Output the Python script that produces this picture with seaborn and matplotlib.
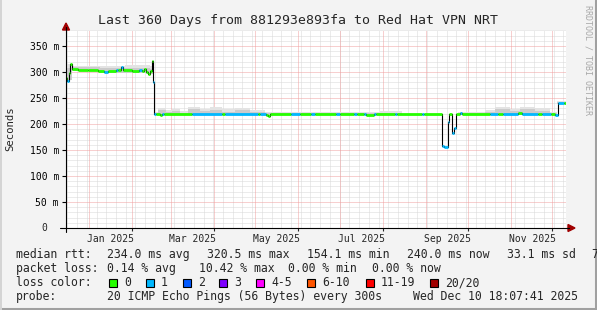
import numpy as np
import pandas as pd
import matplotlib
matplotlib.use("Agg")
import matplotlib.pyplot as plt
import seaborn as sns
from matplotlib.patches import Rectangle, Polygon
from matplotlib.lines import Line2D
from matplotlib.transforms import blended_transform_factory

W, H = 597, 310
START = pd.Timestamp("2024-12-15 18:07:41")
END = pd.Timestamp("2025-12-10 18:07:41")
SPAN = 360.0

# ---------------- data ----------------
# median rtt: segment edges (days since START), value (ms), lost pings (of 20)
med_edges = [0.0, 0.7, 1.8, 3.2, 4.0, 8.6, 15.8, 23.0, 27.4, 30.2, 36.0, 37.4,
             39.6, 41.0, 47.5, 52.6, 54.7, 56.5, 57.6, 59.0, 60.5, 61.9, 62.6,
             63.4, 64.8, 67.7, 69.1, 70.6, 90.7, 112.3, 114.5, 138.2, 139.7,
             144.0, 145.4, 146.9, 162.0, 168.5, 176.4, 179.3, 194.4, 197.3,
             207.4, 209.5, 214.6, 216.0, 221.8, 223.2, 236.9, 238.3, 256.3,
             257.8, 270.7, 272.2, 275.0, 275.8, 277.9, 279.4, 280.8, 283.7,
             285.1, 305.3, 311.0, 314.6, 325.4, 328.3, 339.8, 342.7, 349.2,
             352.1, 353.9, 358.6, 360.0]
med_ms = [289, 283, 298, 316, 305, 304, 303, 302, 300, 301, 303, 303,
          310, 304, 302, 303, 301, 305, 300, 296, 302, 320.5, 281,
          220, 219, 218, 220, 220, 220, 220, 220, 220, 220,
          218, 216, 219, 219, 220, 219, 220, 220, 219,
          220, 219, 220, 218, 219, 220, 220, 220, 219,
          220, 158, 155, 204, 220, 183, 192, 220, 221,
          220, 219, 220, 220, 221, 220, 220, 220, 219,
          217, 240, 240]
med_loss = [0, 1, 0, 0, 0, 0, 0, 0, 1, 0, 1, 0,
            1, 0, 0, 1, 0, 0, 0, 0, 0, 0, 1,
            1, 0, 0, 1, 0, 1, 0, 1, 0, 1,
            0, 0, 0, 1, 0, 1, 0, 1, 0,
            1, 0, 1, 0, 1, 0, 1, 0, 1,
            0, 1, 1, 1, 0, 1, 1, 0, 1,
            0, 1, 0, 1, 0, 1, 0, 1, 0,
            1, 1, 0]

# smoke (spread of the 20 pings): edges in days, lower / inner / outer bound (ms)
smoke_edges = [0.0, 4.3, 24.5, 42.5, 60.5, 63.4, 66.2, 72.0, 76.3, 82.1,
               87.8, 96.5, 103.7, 112.3, 121.7, 132.5, 143.3, 164.9, 226.1,
               241.9, 269.3, 282.2, 301.7, 308.9, 319.7, 326.9, 337.7, 348.5,
               353.5, 360.0]
smoke_lo = [285, 301, 299, 299, 296, 217, 217, 218, 218, 218,
            218, 218, 218, 218, 218, 218, 217, 217, 218,
            218, np.nan, 218, 218, 218, 218, 218, 218, 217, 238]
smoke_mid = [308, 309, 307, 308, 306, 222, 226, 223, 225, 222,
             228, 225, 227, 224, 226, 223, 222, 221, 222,
             221, np.nan, 221, 223, 228, 225, 228, 225, 221, 242]
smoke_hi = [315, 312, 311, 313, 312, 224, 231, 226, 229, 225,
            233, 229, 232, 228, 231, 227, 224, 223, 225,
            223, np.nan, 223, 226, 233, 229, 233, 230, 224, 244]

loss_labels = ["0", "1", "2", "3", "4-5", "6-10", "11-19", "20/20"]
loss_colors = ["#26ff00", "#00b8ff", "#0059ff", "#7e00ff", "#ff00ff",
               "#ff5500", "#ff0000", "#a10000"]

y_ticks = [50, 100, 150, 200, 250, 300, 350]
y_tick_labels = ["50 m", "100 m", "150 m", "200 m", "250 m", "300 m", "350 m"]
x_label_months = ["2025-01-01", "2025-03-01", "2025-05-01", "2025-07-01",
                  "2025-09-01", "2025-11-01"]
x_label_text = ["Jan 2025", "Mar 2025", "May 2025", "Jul 2025", "Sep 2025",
                "Nov 2025"]

title = "Last 360 Days from 881293e893fa to Red Hat VPN NRT"
rtt_stats = ["234.0 ms avg", "320.5 ms max", "154.1 ms min", "240.0 ms now",
             "33.1 ms sd", "7"]
loss_stats = ["0.14 % avg", "10.42 % max", "0.00 % min", "0.00 % now"]
probe_text = "20 ICMP Echo Pings (56 Bytes) every 300s"
date_text = "Wed Dec 10 18:07:41 2025"

# ---------------- style ----------------
sns.set_style("white")
plt.rcParams["font.family"] = ["DejaVu Sans Mono"]
plt.rcParams["axes.unicode_minus"] = False

fig = plt.figure(figsize=(W / 100, H / 100), dpi=100, facecolor="#f3f3f3")
L, R, T, B = 66, 566, 30, 228
ax = fig.add_axes([L / W, 1 - B / H, (R - L) / W, (B - T) / H])
ax.set_facecolor("white")
YMAX = (B - T) / 0.52
ax.set_xlim(0, SPAN)
ax.set_ylim(0, YMAX)
for s in ax.spines.values():
    s.set_visible(False)


def P(x, y):
    return (x / W, 1 - y / H)


def days(ts):
    return (pd.Timestamp(ts) - START) / pd.Timedelta(days=1)


# grid
weeks = [days(t) for t in pd.date_range(START, END, freq="W-MON")]
months = [days(t) for t in pd.date_range("2025-01-01", "2025-12-01", freq="MS")]
ax.vlines(weeks, 0, YMAX, colors="#d8d8d8", linewidth=0.72,
          linestyles=[(0, (1, 1))], zorder=0)
hminor = [v for v in range(10, int(YMAX) + 1, 10) if v % 50 != 0]
ax.hlines(hminor, 0, SPAN, colors="#d8d8d8", linewidth=0.72,
          linestyles=[(0, (1, 1))], zorder=0)
ax.vlines(months, 0, YMAX, colors="#f0a0a0", linewidth=0.72,
          linestyles=[(0, (1, 1))], zorder=0.5)
ax.hlines(y_ticks, 0, SPAN, colors="#f0a0a0", linewidth=0.72,
          linestyles=[(0, (1, 1))], zorder=0.5)

# smoke
se = np.array(smoke_edges)
lo = np.append(smoke_lo, smoke_lo[-1])
mid = np.append(smoke_mid, smoke_mid[-1])
hi = np.append(smoke_hi, smoke_hi[-1])
ax.fill_between(se, lo, hi, step="post", color="#e3e3e3", linewidth=0, zorder=1)
ax.fill_between(se, lo, mid, step="post", color="#cbcbcb", linewidth=0, zorder=1.1)

# median line (black steps) with loss-coloured segments
df = pd.DataFrame({"day": med_edges, "ms": med_ms + [med_ms[-1]]})
sns.lineplot(data=df, x="day", y="ms", drawstyle="steps-post", color="black",
             linewidth=0.8, estimator=None, sort=False, ax=ax, zorder=3)
ax.hlines(med_ms, med_edges[:-1], med_edges[1:],
          colors=[loss_colors[l] for l in med_loss], linewidth=2.0,
          zorder=4, capstyle="butt")

# ticks
ax.set_yticks(y_ticks)
ax.set_yticklabels(y_tick_labels)
ax.tick_params(axis="y", which="major", length=2.9, width=0.8, pad=2.2,
               labelsize=7, colors="black", direction="out", left=True)
xlab_pos = [days(m) + 15.5 for m in x_label_months]
ax.set_xticks(xlab_pos)
ax.set_xticklabels(x_label_text)
ax.tick_params(axis="x", which="major", length=0, pad=4.2, labelsize=7)
ax.set_xticks([days(t) for t in pd.date_range("2025-02-01", "2025-12-01",
                                              freq="2MS")], minor=True)
ax.tick_params(axis="x", which="minor", length=2.2, width=0.8,
               direction="out", bottom=True)
ax.set_xlabel("")
ax.set_ylabel("")
ax.text((47 - L) / (R - L), 0, "0",
        transform=blended_transform_factory(ax.transAxes, ax.transData),
        ha="right", va="center", fontsize=7)

# axes lines and arrows
fig.add_artist(Line2D([60 / W, 569 / W], [1 - B / H, 1 - B / H],
                      color="black", linewidth=0.8))
fig.add_artist(Line2D([L / W, L / W], [1 - 232 / H, 1 - 27 / H],
                      color="black", linewidth=0.8))
fig.add_artist(Polygon([P(568, 224.5), P(568, 231.5), P(575, 228)],
                       closed=True, color="#a00000"))
fig.add_artist(Polygon([P(62.5, 30), P(69.5, 30), P(66, 23)],
                       closed=True, color="#a00000"))

# titles
fig.text(*P(297.5, 24), title, ha="center", va="baseline", fontsize=9.5)
fig.text(*P(10, 129), "Seconds", rotation=90, ha="center", va="center",
         fontsize=7.7)
fig.text(*P(588, 5), "RRDTOOL / TOBI OETIKER", rotation=270, ha="center",
         va="top", fontsize=6, color="#a8a8a8")

# legend rows
FS = 8.3
fig.text(*P(16, 258), "median rtt:", ha="left", va="baseline", fontsize=FS)
for x, s in zip([107, 207, 307, 407, 507, 591], rtt_stats):
    fig.text(*P(x, 258), s, ha="left", va="baseline", fontsize=FS)
fig.text(*P(16, 272), "packet loss:", ha="left", va="baseline", fontsize=FS)
for x, s in zip([107, 199, 288, 372], loss_stats):
    fig.text(*P(x, 272), s, ha="left", va="baseline", fontsize=FS)
fig.text(*P(16, 286), "loss color:", ha="left", va="baseline", fontsize=FS)
box_x = [109, 146, 183, 219, 256, 307, 366, 430]
for bx, lab, col in zip(box_x, loss_labels, loss_colors):
    fig.add_artist(Rectangle(P(bx, 287.3), 8 / W, 8 / H, facecolor=col,
                             edgecolor="black", linewidth=0.8))
    fig.text(*P(bx + 15, 286), lab, ha="left", va="baseline", fontsize=FS)
fig.text(*P(16, 300), "probe:", ha="left", va="baseline", fontsize=FS)
fig.text(*P(107, 300), probe_text, ha="left", va="baseline", fontsize=FS)
fig.text(*P(413, 300), date_text, ha="left", va="baseline", fontsize=FS)

# frame
fig.add_artist(Line2D([1 - 1.5 / W, 1 - 1.5 / W], [0, 1], color="#a0a0a0",
                      linewidth=2.2))
fig.add_artist(Line2D([0, 1], [1.5 / H, 1.5 / H], color="#a0a0a0",
                      linewidth=2.2))
fig.add_artist(Line2D([1 / W, 1 / W], [0, 1], color="#d4d4d4", linewidth=1.4))

fig.savefig("out.png", dpi=100, facecolor=fig.get_facecolor())
